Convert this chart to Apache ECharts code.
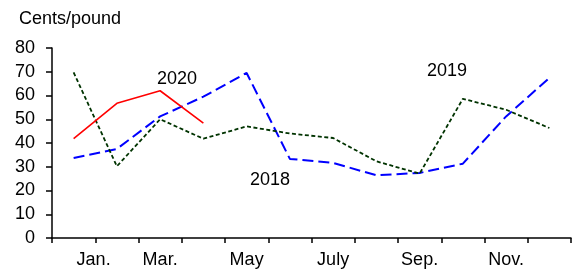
<!DOCTYPE html>
<html>
<head>
<meta charset="utf-8">
<script src="https://cdn.jsdelivr.net/npm/echarts@6/dist/echarts.min.js"></script>
<style>html,body{margin:0;padding:0;background:#fff}#c{width:573px;height:271px}</style>
</head>
<body>
<div id="c"></div>
<script>
const months = ['Jan.','Feb.','Mar.','Apr.','May','June','July','Aug.','Sep.','Oct.','Nov.','Dec.'];
const yTicks = [0,10,20,30,40,50,60,70,80];
const s2018 = [33.7,37.5,51.2,59.5,69.5,33.3,31.6,26.4,27.4,31.3,51.2,67.4];
const s2019 = [69.7,30.2,50.0,41.8,47.0,44.0,42.1,32.3,27.1,58.6,54.0,46.3];
const s2020 = [41.8,56.7,62.0,48.4];

const FONT = "'Liberation Sans', Arial, sans-serif";
const FS = 18;
const chart = echarts.init(document.getElementById('c'), null, {renderer:'canvas'});
chart.setOption({
  animation:false,
  backgroundColor:'#fff',
  grid:{left:52,right:2,top:48,bottom:33,containLabel:false},
  xAxis:{
    type:'category',data:months,boundaryGap:true,
    axisLine:{show:true,lineStyle:{color:'#000',width:1.5}},
    axisTick:{show:true,interval:0,inside:false,length:5,lineStyle:{color:'#000',width:1.5}},
    axisLabel:{interval:1,color:'#000',fontSize:FS,fontFamily:FONT,margin:13,
      formatter:(v,i)=> i===0 ? '{j|'+v+'}' : v,
      rich:{j:{fontSize:FS,fontFamily:FONT,color:'#000',padding:[0,0,0,40]}}},
    splitLine:{show:false}
  },
  yAxis:{
    type:'value',min:yTicks[0],max:yTicks[yTicks.length-1],interval:10,
    axisLine:{show:true,lineStyle:{color:'#000',width:1.5}},
    axisTick:{show:true,inside:false,length:6,lineStyle:{color:'#000',width:1.5}},
    axisLabel:{color:'#000',fontSize:FS,fontFamily:FONT,margin:17},
    splitLine:{show:false}
  },
  graphic:[
    {type:'text',left:19,top:10,style:{text:'Cents/pound',fontSize:FS,fontFamily:FONT,fill:'#000'}},
    {type:'text',x:177,y:79,style:{text:'2020',fontSize:FS,fontFamily:FONT,fill:'#000',align:'center',verticalAlign:'middle'}},
    {type:'text',x:270,y:180,style:{text:'2018',fontSize:FS,fontFamily:FONT,fill:'#000',align:'center',verticalAlign:'middle'}},
    {type:'text',x:447,y:71,style:{text:'2019',fontSize:FS,fontFamily:FONT,fill:'#000',align:'center',verticalAlign:'middle'}}
  ],
  series:[
    {name:'2018',type:'line',data:s2018,symbol:'none',
      lineStyle:{color:'#0000ff',width:2,type:[11,5]}},
    {name:'2019',type:'line',data:s2019,symbol:'none',
      lineStyle:{color:'#003300',width:1.8,type:[4,2.5]}},
    {name:'2020',type:'line',data:s2020,symbol:'none',
      lineStyle:{color:'#ff0000',width:1.6,type:'solid'}}
  ]
});
</script>
</body>
</html>
